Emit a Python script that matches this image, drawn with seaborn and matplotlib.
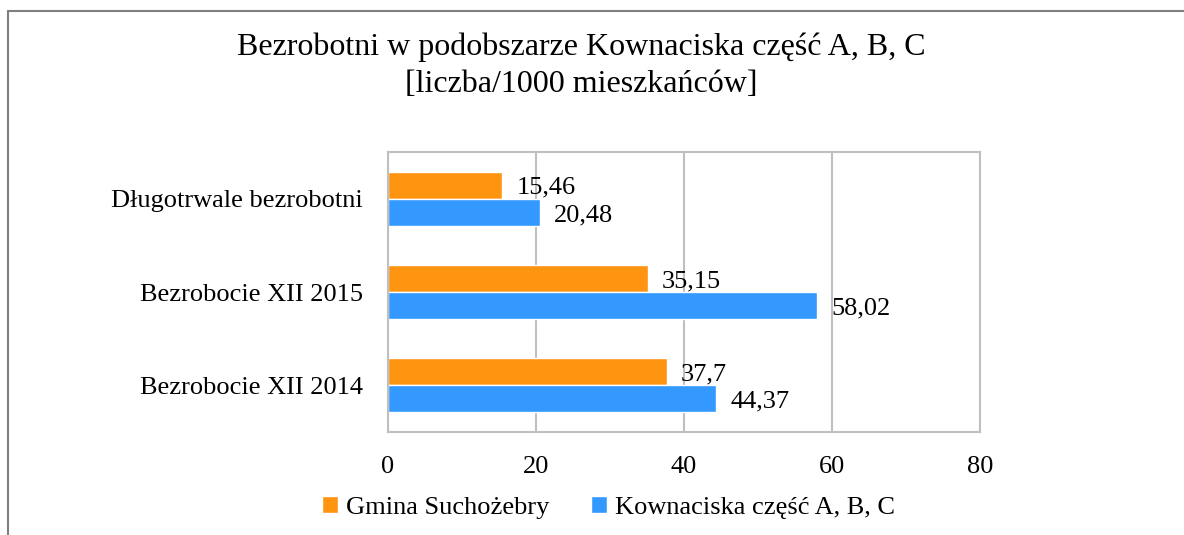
import numpy as np
import pandas as pd
import seaborn as sns

import matplotlib
matplotlib.use('Agg')
import matplotlib.pyplot as plt
from matplotlib.patches import Rectangle

categories = ["Długotrwale bezrobotni", "Bezrobocie XII 2015", "Bezrobocie XII 2014"]
series = ["Gmina Suchożebry", "Kownaciska część A, B, C"]
gmina = [15.46, 35.15, 37.7]
kownaciska = [20.48, 58.02, 44.37]
xticks = [0, 20, 40, 60, 80]

data = pd.DataFrame({
    "kategoria": categories * 2,
    "seria": [series[0]] * 3 + [series[1]] * 3,
    "wartosc": gmina + kownaciska,
})

sns.set_style("white")
plt.rcParams['font.family'] = ['Liberation Serif', 'DejaVu Serif']
plt.rcParams['text.color'] = 'black'
plt.rcParams['xtick.color'] = 'black'
plt.rcParams['ytick.color'] = 'black'

fig = plt.figure(figsize=(11.84, 5.35), dpi=100)
ax = fig.add_axes([388 / 1184, 0.1925, 592 / 1184, 0.5234])

sns.barplot(data=data, x="wartosc", y="kategoria", hue="seria", order=categories,
            hue_order=series, palette=["#FF9411", "#3399FF"], orient="h",
            width=0.58, saturation=1, ax=ax)

#--------------labels----------------
for cont in ax.containers:
    labs = [f"{b.get_width():g}".replace('.', ',') for b in cont]
    anns = ax.bar_label(cont, labels=labs, padding=10, fontsize=19, color="black")
    for a in anns:
        a.xyann = (10, -2)  # troche nizej jak w oryginale

ax.set_xlim(0, 80)
ax.set_xticks(xticks)
ax.set_xticklabels([str(t) for t in xticks])
ax.set_ylim(2.5, -0.5)
ax.set_xlabel("")
ax.set_ylabel("")
ax.xaxis.grid(True, color="#BFBFBF", lw=1.5)
ax.set_axisbelow(True)
for s in ax.spines.values():
    s.set_color("#BFBFBF")
    s.set_linewidth(1.5)
ax.tick_params(axis="x", length=0, pad=17, labelsize=19, labelcolor="black")
ax.tick_params(axis="y", length=0, pad=18, labelsize=19, labelcolor="black")

ax.legend(loc="center", bbox_to_anchor=(0.514, 0.052), bbox_transform=fig.transFigure,
          ncol=2, frameon=False, fontsize=19, handlelength=0.6, handleheight=0.6,
          handletextpad=0.3, columnspacing=1.6, borderpad=0, labelcolor="black")

fig.text(0.4907, 1 - 47 / 535, "Bezrobotni w podobszarze Kownaciska część A, B, C",
         ha="center", va="center", fontsize=23, color="black")
fig.text(0.4907, 1 - 85 / 535, "[liczba/1000 mieszkańców]",
         ha="center", va="center", fontsize=23, color="black")

# ramka wykresu (prawa i dolna krawedz ucieta)
fig.patches.append(Rectangle((8 / 1184, -0.2), 1.5, 1.2 - 11 / 535, transform=fig.transFigure,
                             fill=False, edgecolor="#7F7F7F", lw=1.5))

fig.savefig("out.png", dpi=100)
